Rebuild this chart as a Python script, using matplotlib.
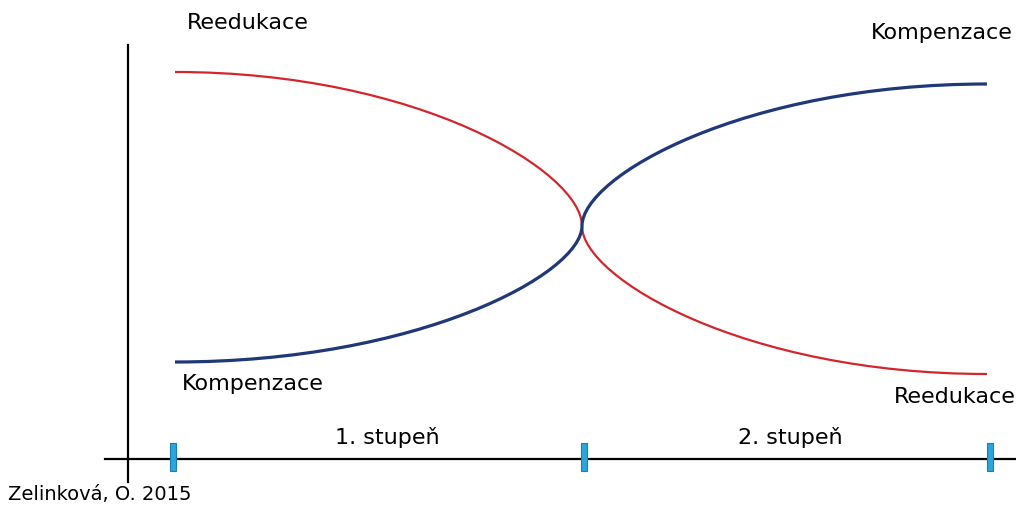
import numpy as np
import matplotlib
matplotlib.use('Agg')
import matplotlib.pyplot as plt
from matplotlib.path import Path
from matplotlib.patches import PathPatch

# anchor points (pixel-like units, y grows downward):
# start, crossing, end of each curve
curve_x = [175, 582, 987]
red_y = [72, 226, 374]    # Reedukace
blue_y = [362, 226, 84]   # Kompenzace

# stage markers on the baseline
tick_x = [173, 584, 990]
stage_labels = ['1. stupeň', '2. stupeň']
stage_x = [387, 790]

fig = plt.figure(figsize=(10.16, 5.08), dpi=100)
ax = fig.add_axes([0, 0, 1, 1])
ax.set_xlim(0, 1016)
ax.set_ylim(508, 0)
ax.axis('off')

font = 'DejaVu Sans'


def arc_path(xs, ys, kh=0.6, kv=0.35):
    # two arcs: flat at the ends, vertical at the crossing
    x0, x1, x2 = xs
    y0, y1, y2 = ys
    verts = [(x0, y0),
             (x0 + kh * (x1 - x0), y0), (x1, y1 - kv * (y1 - y0)), (x1, y1),
             (x1, y1 + kv * (y2 - y1)), (x2 - kh * (x2 - x1), y2), (x2, y2)]
    codes = [Path.MOVETO] + [Path.CURVE4] * 6
    return Path(verts, codes)


# axes
ax.plot([128, 128], [45, 482], color='black', lw=1.6)
ax.plot([105, 1016], [459, 459], color='black', lw=1.6)

ax.add_patch(PathPatch(arc_path(curve_x, red_y), fc='none', ec='#d3262c', lw=1.6))
ax.add_patch(PathPatch(arc_path(curve_x, blue_y), fc='none', ec='#1f3877', lw=2.3))

ax.bar(tick_x, 28, bottom=443, width=6, color='#2aa6dc', edgecolor='#1a7fb0', lw=0.8, zorder=3)

ax.text(187, 23, 'Reedukace', fontsize=16, family=font, ha='left', va='center')
ax.text(1013, 33, 'Kompenzace', fontsize=16, family=font, ha='right', va='center')
ax.text(182, 384, 'Kompenzace', fontsize=16, family=font, ha='left', va='center')
ax.text(1016, 397, 'Reedukace', fontsize=16, family=font, ha='right', va='center')
for lab, x in zip(stage_labels, stage_x):
    ax.text(x, 437, lab, fontsize=16, family=font, ha='center', va='center')
ax.text(8, 495, 'Zelinková, O. 2015', fontsize=14, family=font, ha='left', va='center')

plt.savefig('out.png', dpi=100)
